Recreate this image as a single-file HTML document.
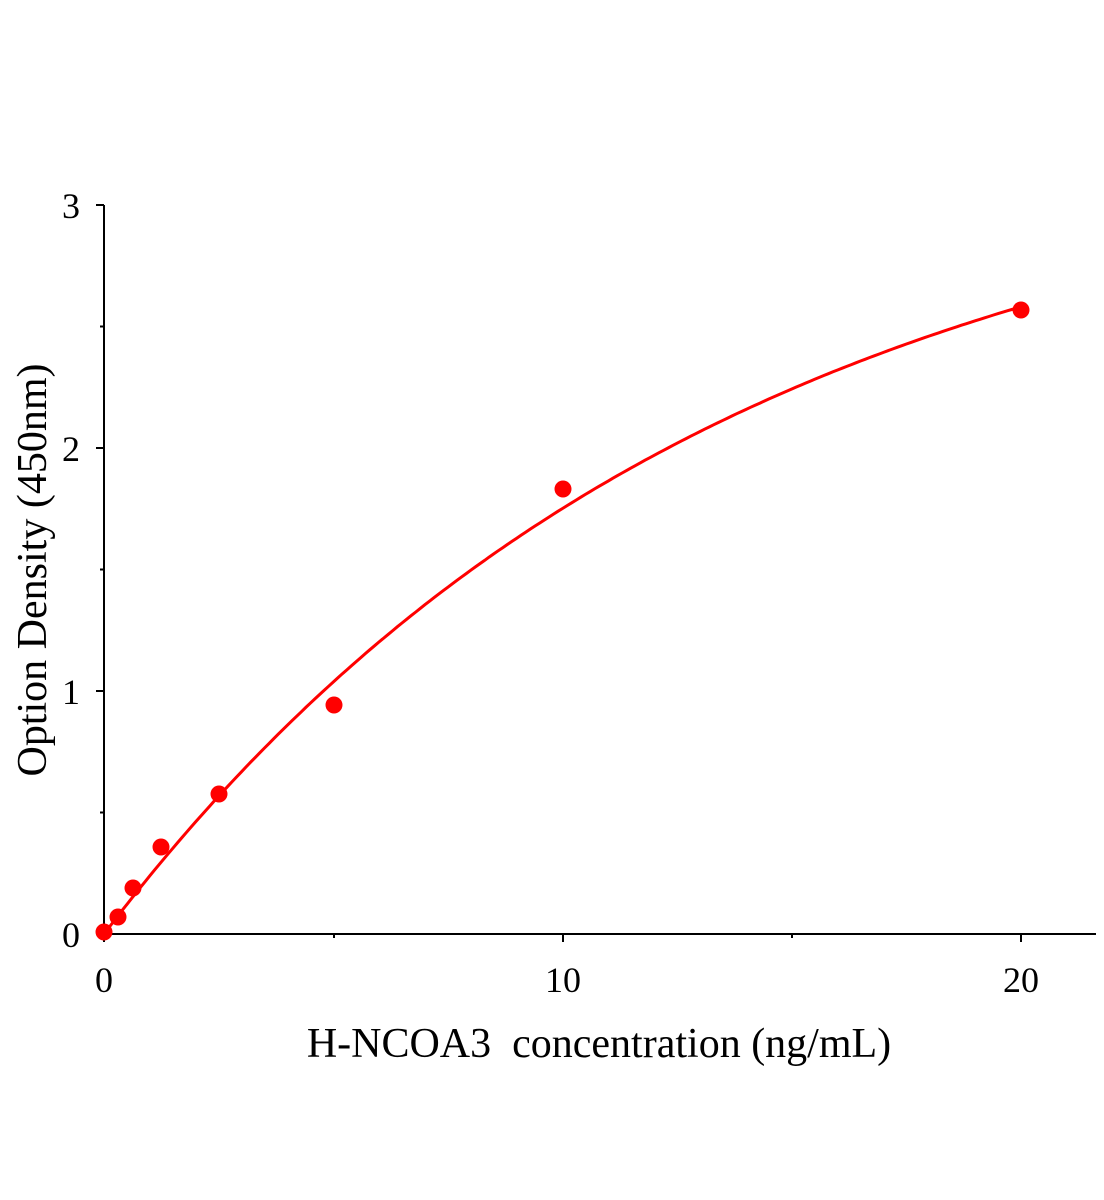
<!DOCTYPE html>
<html><head><meta charset="utf-8"><style>
html,body{margin:0;padding:0;background:#fff;}
svg{display:block;}
text{font-family:"Liberation Serif",serif;fill:#000;}
</style></head><body>
<svg id="s" width="1104" height="1200" viewBox="0 0 1104 1200" xmlns="http://www.w3.org/2000/svg">
<g stroke="#000" stroke-width="2" fill="none">
<line x1="104" y1="205" x2="104" y2="935"/>
<line x1="103" y1="934" x2="1096" y2="934"/>
<line x1="96" y1="205" x2="104" y2="205"/>
<line x1="96" y1="448" x2="104" y2="448"/>
<line x1="96" y1="691" x2="104" y2="691"/>
<line x1="96" y1="934" x2="104" y2="934"/>
<line x1="100" y1="326.5" x2="104" y2="326.5"/>
<line x1="100" y1="569.5" x2="104" y2="569.5"/>
<line x1="100" y1="812.5" x2="104" y2="812.5"/>
<line x1="104" y1="934" x2="104" y2="942"/>
<line x1="563" y1="934" x2="563" y2="942"/>
<line x1="1021" y1="934" x2="1021" y2="942"/>
<line x1="334" y1="934" x2="334" y2="938"/>
<line x1="792" y1="934" x2="792" y2="938"/>
</g>
<g font-size="36" text-anchor="end">
<text x="80" y="218">3</text>
<text x="80" y="461">2</text>
<text x="80" y="704">1</text>
<text x="80" y="947">0</text>
</g>
<g font-size="36" text-anchor="middle">
<text x="104" y="992">0</text>
<text x="563" y="992">10</text>
<text x="1021" y="992">20</text>
</g>
<text x="599" y="1057" font-size="42" text-anchor="middle" xml:space="preserve">H-NCOA3  concentration (ng/mL)</text>
<text transform="translate(46,570) rotate(-90)" font-size="42" text-anchor="middle">Option Density (450nm)</text>
<polyline id="c" fill="none" stroke="#f00" stroke-width="3"/>
<g fill="#f00">
<circle cx="104" cy="932" r="8.5"/>
<circle cx="118" cy="917" r="8.5"/>
<circle cx="133" cy="888" r="8.5"/>
<circle cx="161" cy="847" r="8.5"/>
<circle cx="219" cy="794" r="8.5"/>
<circle cx="334" cy="705" r="8.5"/>
<circle cx="563" cy="489" r="8.5"/>
<circle cx="1021" cy="310" r="8.5"/>
</g>
</svg>
<script>
var p=[];for(var i=0;i<=200;i++){var x=i*0.1;var y=3.33*(1-Math.exp(-x/13.4));p.push((104+x*45.85).toFixed(1)+","+(934-y*243).toFixed(1));}
document.getElementById("c").setAttribute("points",p.join(" "));
</script>
</body></html>
